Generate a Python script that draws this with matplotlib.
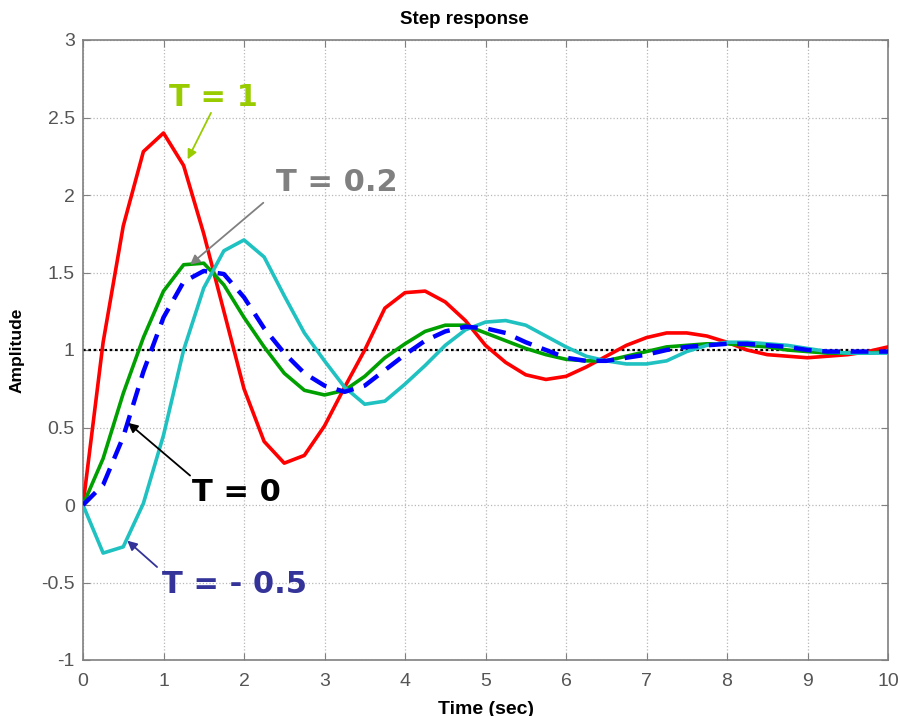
import numpy as np
import matplotlib
matplotlib.use("Agg")
import matplotlib.pyplot as plt

t = [0.00, 0.25, 0.50, 0.75, 1.00, 1.25, 1.50, 1.75, 2.00, 2.25,
     2.50, 2.75, 3.00, 3.25, 3.50, 3.75, 4.00, 4.25, 4.50, 4.75,
     5.00, 5.25, 5.50, 5.75, 6.00, 6.25, 6.50, 6.75, 7.00, 7.25,
     7.50, 7.75, 8.00, 8.25, 8.50, 8.75, 9.00, 9.25, 9.50, 9.75, 10.00]

y_T1 = [0.00, 1.05, 1.80, 2.28, 2.40, 2.19, 1.75, 1.25, 0.75, 0.41,
        0.27, 0.32, 0.51, 0.76, 1.00, 1.27, 1.37, 1.38, 1.31, 1.19,
        1.03, 0.92, 0.84, 0.81, 0.83, 0.89, 0.96, 1.03, 1.08, 1.11,
        1.11, 1.09, 1.05, 1.00, 0.97, 0.96, 0.95, 0.96, 0.97, 0.99, 1.02]

y_T02 = [0.00, 0.30, 0.72, 1.08, 1.38, 1.55, 1.56, 1.42, 1.21, 1.02,
         0.85, 0.74, 0.71, 0.74, 0.83, 0.95, 1.04, 1.12, 1.16, 1.16,
         1.11, 1.06, 1.01, 0.97, 0.94, 0.93, 0.93, 0.96, 0.99, 1.02,
         1.03, 1.04, 1.04, 1.03, 1.02, 1.00, 0.99, 0.98, 0.98, 0.98, 0.99]

y_T0 = [0.00, 0.13, 0.44, 0.86, 1.21, 1.44, 1.51, 1.49, 1.34, 1.14,
        0.98, 0.85, 0.77, 0.73, 0.77, 0.87, 0.97, 1.06, 1.12, 1.15,
        1.14, 1.11, 1.05, 1.00, 0.95, 0.93, 0.93, 0.95, 0.97, 1.00,
        1.02, 1.03, 1.04, 1.04, 1.03, 1.02, 1.00, 0.99, 0.99, 0.99, 0.99]

y_Tm05 = [0.00, -0.31, -0.27, 0.01, 0.45, 1.00, 1.40, 1.64, 1.71, 1.60,
          1.35, 1.11, 0.93, 0.76, 0.65, 0.67, 0.78, 0.90, 1.03, 1.13,
          1.18, 1.19, 1.16, 1.09, 1.02, 0.96, 0.93, 0.91, 0.91, 0.93,
          0.99, 1.03, 1.05, 1.05, 1.04, 1.03, 1.01, 0.99, 0.98, 0.98, 0.98]

x_ticks = [0, 1, 2, 3, 4, 5, 6, 7, 8, 9, 10]
y_ticks = [-1, -0.5, 0, 0.5, 1, 1.5, 2, 2.5, 3]
y_ticklabels = ["-1", "-0.5", "0", "0.5", "1", "1.5", "2", "2.5", "3"]

labels = ["T = 1", "T = 0.2", "T = 0", "T = - 0.5"]
label_colors = ["#99cc00", "#808080", "#000000", "#333399"]

# ---- figure ----
fig = plt.figure(figsize=(9.0, 7.16), dpi=100)
ax = fig.add_axes([83/900, 1 - 660/716, (888-83)/900, (660-40)/716])

ax.set_xlim(0, 10)
ax.set_ylim(-1, 3)

ax.grid(True, color="#b8b8b8", linestyle=":", linewidth=0.9)
ax.set_axisbelow(True)

ax.axhline(1.0, color="black", linestyle=(0, (1.2, 1.2)), linewidth=1.6, zorder=2)

lw = 2.6
ax.plot(t, y_T1, color="#ff0000", linewidth=lw, zorder=3)
ax.plot(t, y_T02, color="#00a000", linewidth=lw, zorder=3)
ax.plot(t, y_Tm05, color="#1fc1c1", linewidth=lw, zorder=3)
ax.plot(t, y_T0, color="#0000ff", linewidth=lw + 0.6, dashes=(4.0, 2.4), zorder=4)

for s in ax.spines.values():
    s.set_color("#808080")
    s.set_linewidth(1.2)

ax.set_xticks(x_ticks)
ax.set_yticks(y_ticks)
ax.set_yticklabels(y_ticklabels)
ax.tick_params(direction="in", top=True, right=True, length=5, color="#808080",
               labelcolor="#555555")
ax.tick_params(axis="x", pad=9)
ax.tick_params(axis="y", pad=6)
for lab in ax.get_xticklabels():
    lab.set_fontfamily(["Liberation Sans Narrow", "Liberation Sans", "DejaVu Sans"])
    lab.set_fontsize(14)
for lab in ax.get_yticklabels():
    lab.set_fontfamily(["Liberation Sans", "DejaVu Sans"])
    lab.set_fontsize(14)

fig.text(464/900, 1 - 19/716, "Step response", fontsize=13.5, fontweight="bold",
         family=["Liberation Sans", "DejaVu Sans"], ha="center", va="center")
ax.set_xlabel("Time (sec)", fontsize=14, fontweight="bold",
              family=["Liberation Sans Narrow", "Liberation Sans", "DejaVu Sans"], labelpad=8)
ax.set_ylabel("Amplitude", fontsize=12.5, fontweight="bold",
              family=["Liberation Sans", "DejaVu Sans"], labelpad=12)

# ---- annotations: text position, arrow start, arrow tip (data coords) ----
text_pos = [(1.62, 2.63), (3.15, 2.08), (1.90, 0.08), (1.88, -0.51)]
arrow_start = [(1.59, 2.53), (2.24, 1.95), (1.33, 0.19), (0.92, -0.40)]
arrow_tip = [(1.30, 2.23), (1.33, 1.55), (0.56, 0.53), (0.55, -0.23)]

fs = 22
for lab, col, tp, st, tip in zip(labels, label_colors, text_pos, arrow_start, arrow_tip):
    ax.text(tp[0], tp[1], lab, fontsize=fs, fontweight="bold", color=col,
            ha="center", va="center", family=["DejaVu Sans"], zorder=6)
    ax.annotate("", xy=tip, xytext=st,
                arrowprops=dict(arrowstyle="-|>", color=col, lw=1.3,
                                mutation_scale=14, shrinkA=0, shrinkB=0),
                zorder=6)

fig.savefig("out.png", dpi=100)
